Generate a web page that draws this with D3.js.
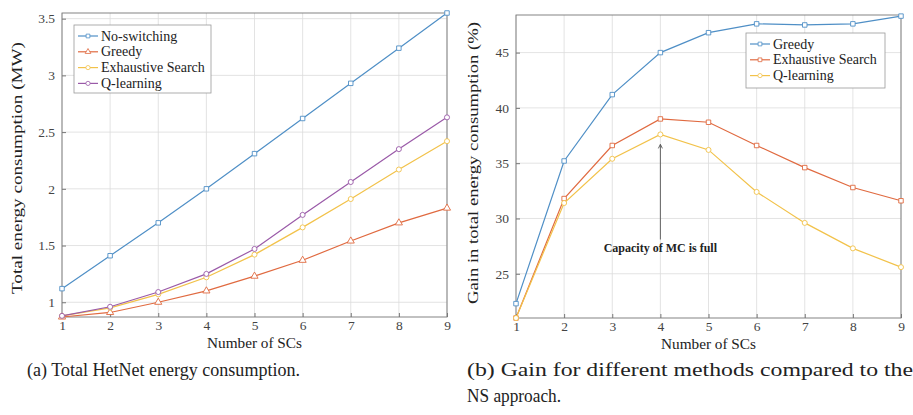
<!DOCTYPE html>
<html>
<head>
<meta charset="utf-8">
<script src="https://cdn.jsdelivr.net/npm/d3@7"></script>
<style>
  body { margin: 0; background: #fff; }
  svg text { font-family: "Liberation Serif", "Times New Roman", Times, "DejaVu Serif", serif !important; }
</style>
</head>
<body>
<svg width="913" height="415"></svg>
<script>
// data
var scs = [1, 2, 3, 4, 5, 6, 7, 8, 9];

// (a) total energy consumption (MW)
var noSwitching = [1.12, 1.41, 1.70, 2.00, 2.31, 2.62, 2.93, 3.24, 3.55];
var greedyMW = [0.87, 0.91, 1.00, 1.10, 1.23, 1.37, 1.54, 1.70, 1.83];
var exhaustiveMW = [0.88, 0.95, 1.07, 1.22, 1.42, 1.66, 1.91, 2.17, 2.42];
var qlearningMW = [0.88, 0.96, 1.09, 1.25, 1.47, 1.77, 2.06, 2.35, 2.63];
var ticksA = [1, 1.5, 2, 2.5, 3, 3.5];

// (b) gain compared to NS (%)
var greedyGain = [22.3, 35.2, 41.2, 45.0, 46.8, 47.6, 47.5, 47.6, 48.3];
var exhaustiveGain = [21.0, 31.8, 36.6, 39.0, 38.7, 36.6, 34.6, 32.8, 31.6];
var qlearningGain = [21.0, 31.4, 35.4, 37.6, 36.2, 32.4, 29.6, 27.3, 25.6];
var ticksB = [25, 30, 35, 40, 45];

// annotation in (b)
var capacityX = 4, capacityTop = 36.7, capacityBottom = 28.1;
var capacityText = "Capacity of MC is full";

var blue = "#4f8fc6", red = "#e06a40", yellow = "#f2c24a", purple = "#9a5aa8";

var svg = d3.select("svg");

// draws one panel (axes, grid, lines, legend)
function panel(opt) {
  var x = d3.scaleLinear().domain([1, 9]).range([opt.left, opt.right]);
  var y = d3.scaleLinear().domain(opt.yDomain).range([opt.bottom, opt.top]);
  var g = svg.append("g");

  // grid
  g.selectAll(".gx").data(scs).enter().append("line")
    .attr("x1", d => x(d)).attr("x2", d => x(d))
    .attr("y1", opt.top).attr("y2", opt.bottom)
    .attr("stroke", "#dcdcdc").attr("stroke-width", 0.8);
  g.selectAll(".gy").data(opt.yTicks).enter().append("line")
    .attr("x1", opt.left).attr("x2", opt.right)
    .attr("y1", d => y(d)).attr("y2", d => y(d))
    .attr("stroke", "#dcdcdc").attr("stroke-width", 0.8);

  // axes
  var ax = g.append("g").attr("transform", "translate(0," + opt.bottom + ")")
    .call(d3.axisBottom(x).tickValues(scs).tickSize(-4).tickPadding(3).tickFormat(d3.format("d")));
  var ay = g.append("g").attr("transform", "translate(" + opt.left + ",0)")
    .call(d3.axisLeft(y).tickValues(opt.yTicks).tickSize(-4).tickPadding(7).tickFormat(d => d));
  [ax, ay].forEach(function(a) {
    a.select(".domain").remove();
    a.selectAll("line").attr("stroke", "#777");
    a.selectAll("text").attr("font-size", 13.5).attr("fill", "#444");
  });

  // frame
  g.append("rect").attr("x", opt.left).attr("y", opt.top)
    .attr("width", opt.right - opt.left).attr("height", opt.bottom - opt.top)
    .attr("fill", "none").attr("stroke", "#777").attr("stroke-width", 0.9);

  // labels
  g.append("text").attr("x", (opt.left + opt.right) / 2).attr("y", opt.bottom + 31)
    .attr("text-anchor", "middle").attr("font-size", 15).attr("fill", "#222")
    .attr("textLength", 95).attr("lengthAdjust", "spacingAndGlyphs")
    .text("Number of SCs");
  g.append("text")
    .attr("transform", "translate(" + opt.yLabelX + "," + opt.yLabelMid + ") rotate(-90)")
    .attr("text-anchor", "middle").attr("font-size", 15).attr("fill", "#222")
    .attr("textLength", opt.yLabelLen).attr("lengthAdjust", "spacingAndGlyphs")
    .text(opt.yLabel);

  var line = d3.line().x((d, i) => x(scs[i])).y(d => y(d));

  opt.series.forEach(function(s) {
    g.append("path").datum(s.values).attr("d", line)
      .attr("fill", "none").attr("stroke", s.color).attr("stroke-width", 1.2);
    g.selectAll(null).data(s.values).enter().append("path")
      .attr("transform", (d, i) => "translate(" + x(scs[i]) + "," + y(d) + ")")
      .attr("d", d3.symbol().type(s.symbol).size(s.symbol === d3.symbolTriangle ? 22 : 20))
      .attr("fill", "#fff").attr("stroke", s.color).attr("stroke-width", 0.9);
  });

  // legend
  var L = opt.legend;
  g.append("rect").attr("x", L.x).attr("y", L.y).attr("width", L.w).attr("height", L.h)
    .attr("fill", "#fff").attr("stroke", "#999").attr("stroke-width", 0.8);
  opt.series.forEach(function(s, i) {
    var yy = L.y + 11 + i * 15.8;
    g.append("line").attr("x1", L.x + 4).attr("x2", L.x + 24).attr("y1", yy).attr("y2", yy)
      .attr("stroke", s.color).attr("stroke-width", 1.2);
    g.append("path").attr("transform", "translate(" + (L.x + 14) + "," + yy + ")")
      .attr("d", d3.symbol().type(s.symbol).size(14))
      .attr("fill", "#fff").attr("stroke", s.color).attr("stroke-width", 0.8);
    g.append("text").attr("x", L.x + 27).attr("y", yy + 4.5)
      .attr("font-size", 14).attr("fill", "#222").text(s.name);
  });

  return { x: x, y: y, g: g };
}

panel({
  left: 62, right: 447, top: 13, bottom: 317,
  yDomain: [0.87, 3.55], yTicks: ticksA,
  yLabel: "Total energy consumption (MW)", yLabelX: 22, yLabelMid: 168, yLabelLen: 252,
  legend: { x: 74, y: 25, w: 137, h: 68 },
  series: [
    { name: "No-switching", values: noSwitching, color: blue, symbol: d3.symbolSquare },
    { name: "Greedy", values: greedyMW, color: red, symbol: d3.symbolTriangle },
    { name: "Exhaustive Search", values: exhaustiveMW, color: yellow, symbol: d3.symbolCircle },
    { name: "Q-learning", values: qlearningMW, color: purple, symbol: d3.symbolCircle }
  ]
});

var pb = panel({
  left: 516, right: 901, top: 15, bottom: 318,
  yDomain: [21, 48.4], yTicks: ticksB,
  yLabel: "Gain in total energy consumption (%)", yLabelX: 478, yLabelMid: 163, yLabelLen: 282,
  legend: { x: 746, y: 33, w: 139, h: 55 },
  series: [
    { name: "Greedy", values: greedyGain, color: blue, symbol: d3.symbolSquare },
    { name: "Exhaustive Search", values: exhaustiveGain, color: red, symbol: d3.symbolSquare },
    { name: "Q-learning", values: qlearningGain, color: yellow, symbol: d3.symbolCircle }
  ]
});

// annotation arrow
var ax4 = pb.x(capacityX);
pb.g.append("line").attr("x1", ax4).attr("x2", ax4)
  .attr("y1", pb.y(capacityTop)).attr("y2", pb.y(capacityBottom))
  .attr("stroke", "#555").attr("stroke-width", 0.9);
pb.g.append("path")
  .attr("d", "M" + (ax4 - 2) + "," + (pb.y(capacityTop) + 4) + "L" + ax4 + "," + pb.y(capacityTop) + "L" + (ax4 + 2) + "," + (pb.y(capacityTop) + 4))
  .attr("fill", "none").attr("stroke", "#555").attr("stroke-width", 0.9);
pb.g.append("text").attr("x", ax4).attr("y", pb.y(capacityBottom) + 13)
  .attr("text-anchor", "middle").attr("font-size", 12).attr("font-weight", "bold")
  .attr("fill", "#222").text(capacityText);

// captions
svg.append("text").attr("x", 27).attr("y", 376).attr("font-size", 19).attr("fill", "#222")
  .attr("textLength", 273).attr("lengthAdjust", "spacingAndGlyphs")
  .text("(a) Total HetNet energy consumption.");
svg.append("text").attr("x", 467).attr("y", 376).attr("font-size", 19).attr("fill", "#222")
  .attr("textLength", 446).attr("lengthAdjust", "spacingAndGlyphs")
  .text("(b) Gain for different methods compared to the");
svg.append("text").attr("x", 467).attr("y", 402).attr("font-size", 19).attr("fill", "#222")
  .attr("textLength", 94).attr("lengthAdjust", "spacingAndGlyphs")
  .text("NS approach.");
</script>
</body>
</html>
